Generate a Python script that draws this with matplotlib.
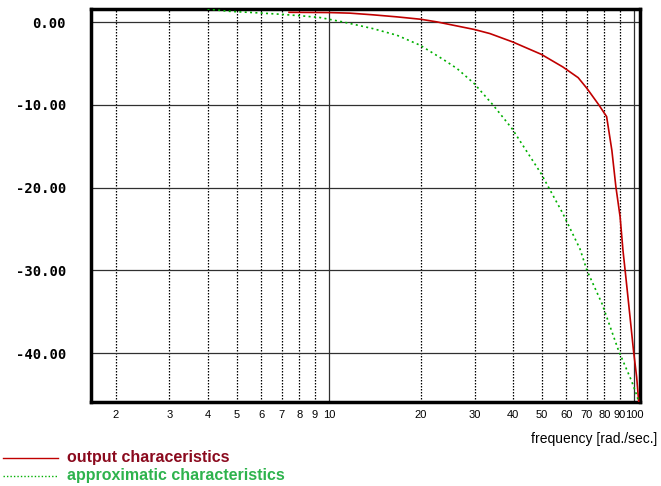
import matplotlib
matplotlib.use("Agg")
import matplotlib.pyplot as plt
from matplotlib.lines import Line2D
from matplotlib.ticker import NullLocator

# values
red_freq = [7.4, 10, 11.7, 13.9, 16.7, 20, 22.6, 30, 33.7, 40, 49.6, 58.4, 65.6,
            70.1, 76.7, 81.3, 84.6, 87.2, 90, 92, 94, 97, 99.6, 102, 103.5, 104.2]
red_db = [1.2, 1.17, 1.1, 0.9, 0.65, 0.36, 0.04, -0.88, -1.37, -2.38, -3.87, -5.4, -6.7,
          -8.0, -10.0, -11.4, -15.5, -19.9, -23.5, -27.6, -30.8, -35.6, -39.7, -42.9, -45.7, -47.0]

green_freq = [4.0, 4.67, 5.63, 6.9, 8.2, 9.34, 11.1, 13.9, 16.7, 19.9, 23.7, 26.3, 29.9,
              34.5, 39.8, 49.6, 58.4, 66.5, 70.1, 78.5, 89, 98, 102.6, 104.0]
green_db = [1.6, 1.33, 1.17, 0.97, 0.76, 0.57, 0.04, -0.76, -1.57, -2.78, -4.5, -5.6, -7.4,
            -10.0, -12.85, -18.3, -23.1, -27.4, -30.0, -34.0, -39.7, -43.3, -45.3, -46.5]

x_ticks = [2, 3, 4, 5, 6, 7, 8, 9, 10, 20, 30, 40, 50, 60, 70, 80, 90, 100]
y_ticks = [0, -10, -20, -30, -40]

fig = plt.figure(figsize=(6.61, 4.86), dpi=100)
ax = fig.add_axes([91 / 661, 1 - 402 / 486, (640 - 91) / 661, (402 - 9) / 486])

ax.set_xscale("log")
ax.set_xlim(1.66, 104.6)
ax.set_ylim(-45.9, 1.6)

# grid
for v in x_ticks:
    if v in (10, 100):
        ax.axvline(v, color="#303030", lw=0.9, zorder=1)
    else:
        ax.axvline(v, color="black", lw=0.9, ls=(0, (1.2, 1.2)), zorder=1)
for v in y_ticks:
    ax.axhline(v, color="#303030", lw=0.9, zorder=1)

ax.plot(red_freq, red_db, color="#c00000", lw=1.2, zorder=3)
ax.plot(green_freq, green_db, color="#00b000", lw=1.2, ls=(0, (1.2, 2.0)), zorder=3)

ax.set_xticks(x_ticks)
ax.set_xticklabels([str(v) for v in x_ticks], fontsize=8, family="Liberation Sans")
ax.xaxis.set_minor_locator(NullLocator())
ax.set_yticks(y_ticks)
ax.set_yticklabels([f"{v:.2f}" for v in y_ticks], fontsize=10, family="DejaVu Sans Mono",
                   fontweight="bold")
ax.tick_params(axis="x", length=0, pad=6)
ax.tick_params(axis="y", length=0, pad=18)

for s in ax.spines.values():
    s.set_linewidth(2.5)
    s.set_color("black")

fig.text(657 / 661, 1 - 439 / 486, "frequency [rad./sec.]", ha="right", va="center",
         fontsize=10, family="Liberation Sans")

# legend drawn by hand below the axes
fig.add_artist(Line2D([3 / 661, 58 / 661], [1 - 458 / 486] * 2, color="#c00000", lw=1.0))
fig.add_artist(Line2D([3 / 661, 58 / 661], [1 - 476 / 486] * 2, color="#00b000", lw=1.0,
                      ls=(0, (1, 1.5))))
fig.text(67 / 661, 1 - 457 / 486, "output characeristics", ha="left", va="center",
         fontsize=11.5, fontweight="bold", family="Liberation Sans", color="#8b0a1e")
fig.text(67 / 661, 1 - 475 / 486, "approximatic characteristics", ha="left", va="center",
         fontsize=11.5, fontweight="bold", family="Liberation Sans", color="#2eb34d")

fig.savefig("out.png", dpi=100)
